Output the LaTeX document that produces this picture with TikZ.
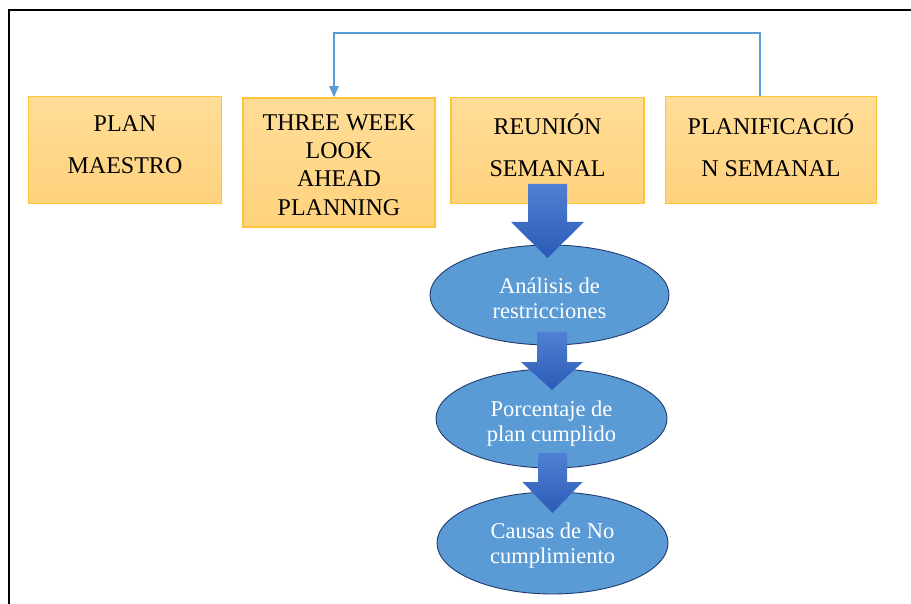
\documentclass[tikz,border=0pt]{standalone}
\usepackage{fontspec}
\setmainfont{Liberation Serif}
\usetikzlibrary{arrows.meta,shapes.geometric}
\definecolor{boxtop}{HTML}{FFDD98}
\definecolor{boxbot}{HTML}{FFD27C}
\definecolor{boxline}{HTML}{FFC53A}
\definecolor{ellfill}{HTML}{5B9BD5}
\definecolor{ellline}{HTML}{1F3B6E}
\definecolor{arrtop}{HTML}{5080D2}
\definecolor{arrbot}{HTML}{2C5BB8}
\definecolor{conn}{HTML}{5B9BD5}
\tikzset{
  boxstyle/.style={rectangle, draw=boxline, line width=1.5pt, top color=boxtop, bottom color=boxbot, inner sep=0pt},
  boxtext/.style={align=center, inner sep=0pt},
  ellstyle/.style={ellipse, draw=ellline, line width=0.9pt, fill=ellfill, inner sep=0pt},
  elltext/.style={text=white, align=center, inner sep=0pt, font=\fontsize{22.5}{25}\selectfont},
  blockarr/.style={top color=arrtop, bottom color=arrbot},
  connline/.style={draw=conn, line width=2pt, -{Triangle[width=9pt,length=11pt]}}
}
\newcommand{\blockarrow}[6]{% x, shafttop, headstart, tip, shaft half, head half
  \shade[blockarr] (#1-#5,#2) -- (#1+#5,#2) -- (#1+#5,#3) -- (#1+#6,#3) -- (#1,#4) -- (#1-#6,#3) -- (#1-#5,#3) -- cycle;}
\begin{document}
\begin{tikzpicture}[x=1pt,y=-1pt]
\useasboundingbox (0,0) rectangle (911,604);
\fill[white] (0,0) rectangle (911,604);
\draw[line width=2pt] (9,605) -- (9,10) -- (912,10);

\node[boxstyle, minimum width=193pt, minimum height=107pt] (b1) at (125,150) {};
\node[boxstyle, minimum width=192pt, minimum height=129pt] (b2) at (339,162.5) {};
\node[boxstyle, minimum width=193pt, minimum height=106pt] (b3) at (547.5,150.5) {};
\node[boxstyle, minimum width=211pt, minimum height=107pt] (b4) at (771,150) {};
\node[boxtext, font=\fontsize{24}{42}\selectfont] (t1) at ([yshift=5pt]b1.center) {PLAN\\MAESTRO};
\node[boxtext, font=\fontsize{24}{28.3}\selectfont] (t2) at ([yshift=-2.5pt]b2.center) {THREE WEEK\\LOOK\\AHEAD\\PLANNING};
\node[boxtext, font=\fontsize{24}{42}\selectfont] (t3) at ([yshift=5pt]b3.center) {REUNIÓN\\SEMANAL};
\node[boxtext, font=\fontsize{24}{42}\selectfont] (t4) at ([yshift=5pt]b4.center) {PLANIFICACIÓ\\N SEMANAL};

\coordinate (top) at (0,33);
\draw[connline] ([xshift=-11pt]b4.north) -- ([xshift=-11pt]b4.north |- top) -| ([xshift=-5pt]b2.north);

\node[ellstyle, minimum width=239pt, minimum height=100pt] (e1) at (549.5,295) {};
\node[ellstyle, minimum width=231pt, minimum height=99pt] (e2) at (551.5,418.5) {};
\node[ellstyle, minimum width=231pt, minimum height=102pt] (e3) at (552.5,543) {};
\node[elltext] (f1) at ([yshift=-3pt]e1.center) {Análisis de\\restricciones};
\node[elltext] (f2) at ([yshift=-5pt]e2.center) {Porcentaje de\\plan cumplido};
\node[elltext] (f3) at ([yshift=-3pt]e3.center) {Causas de No\\cumplimiento};

\blockarrow{547.5}{184}{222}{258}{19.5}{36.5}
\blockarrow{552}{332}{362}{390}{15}{31}
\blockarrow{552.5}{453}{482}{513}{14.5}{30}
\end{tikzpicture}
\end{document}
